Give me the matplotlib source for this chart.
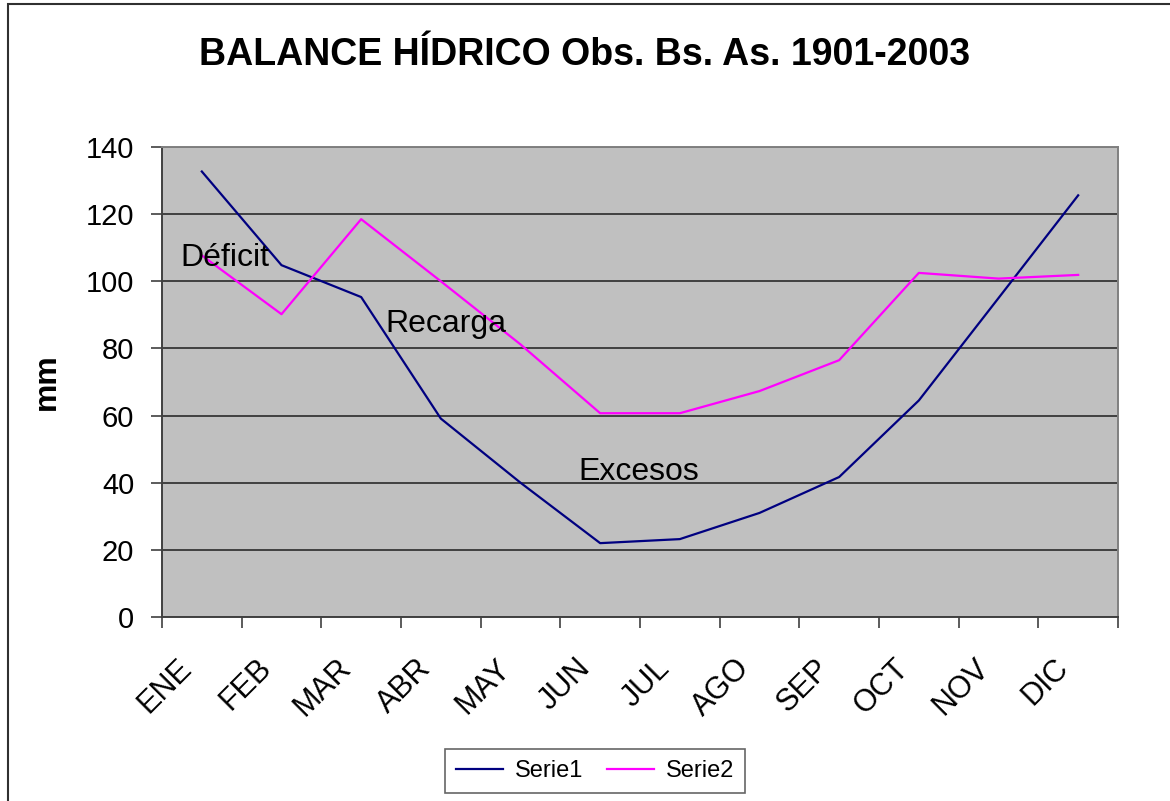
import numpy as np
import matplotlib.pyplot as plt
import matplotlib.transforms as mtransforms
from matplotlib.patches import Rectangle

plt.rcParams['font.family'] = ['Liberation Sans', 'DejaVu Sans']

# datos
meses = ["ENE", "FEB", "MAR", "ABR", "MAY", "JUN", "JUL", "AGO", "SEP", "OCT", "NOV", "DIC"]
serie1 = [132.7, 104.8, 95.3, 59.1, 40.0, 22.0, 23.2, 31.0, 41.7, 64.5, 95.0, 125.6]
serie2 = [107.7, 90.2, 118.5, 100.0, 81.2, 60.7, 60.7, 67.3, 76.5, 102.5, 100.8, 101.9]
ticks_y = [0, 20, 40, 60, 80, 100, 120, 140]

fig = plt.figure(figsize=(11.70, 8.01), dpi=100)
ax = fig.add_axes([162/1170, 184/801, 956/1170, 470/801])
ax.set_facecolor('#C0C0C0')

x = np.arange(len(meses))
ax.plot(x, serie1, color='#000080', lw=1.6, label='Serie1')
ax.plot(x, serie2, color='#FF00FF', lw=1.6, label='Serie2')

ax.set_xlim(-0.5, len(meses) - 0.5)
ax.set_ylim(0, 140)
ax.set_yticks(ticks_y)
ax.yaxis.grid(True, color='#404040', lw=1.4)
ax.set_axisbelow(True)

# ticks en los limites de categoria, etiquetas en el centro
ax.set_xticks(np.arange(-0.5, len(meses)), minor=False)
ax.set_xticklabels([])
ax.set_xticks(x, minor=True)
ax.set_xticklabels(meses, minor=True, rotation=45, ha='right', rotation_mode='anchor', fontsize=22)
ax.tick_params(axis='x', which='minor', length=0, pad=26)
ax.tick_params(axis='x', which='major', length=8, width=1.2, color='#404040', direction='out')
ax.tick_params(axis='y', labelsize=21, length=8, width=1.2, color='#404040', direction='out', pad=12)

shift = mtransforms.ScaledTranslation(-0.25, 0, fig.dpi_scale_trans)
for lbl in ax.get_xticklabels(minor=True):
    lbl.set_transform(lbl.get_transform() + shift)

for s in ['left', 'bottom']:
    ax.spines[s].set_color('#404040')
    ax.spines[s].set_linewidth(1.4)
for s in ['top', 'right']:
    ax.spines[s].set_color('#808080')
    ax.spines[s].set_linewidth(1.4)

ax.set_ylabel('mm', fontsize=23, fontweight='bold', labelpad=17)
fig.text(0.5, 1 - 55/801, 'BALANCE HÍDRICO Obs. Bs. As. 1901-2003', fontsize=27,
         fontweight='bold', ha='center', va='center')

ax.text(-0.27, 107, 'Déficit', fontsize=23, va='center', ha='left')
ax.text(2.31, 87.3, 'Recarga', fontsize=23, va='center', ha='left')
ax.text(4.73, 43.2, 'Excesos', fontsize=23, va='center', ha='left')

leg = fig.legend(loc='center', bbox_to_anchor=(595/1170, 1 - 771/801), ncol=2, fontsize=17,
                 frameon=True, fancybox=False, handlelength=2.0, columnspacing=1.0,
                 handletextpad=0.5, borderpad=0.45)
leg.get_frame().set_edgecolor('#404040')
leg.get_frame().set_linewidth(1.2)

fig.patches.append(Rectangle((8/1170, -0.01), 1.2, 1 - 4/801 + 0.01, transform=fig.transFigure,
                             fill=False, edgecolor='#303030', lw=1.5))

fig.savefig('out.png', dpi=100)
